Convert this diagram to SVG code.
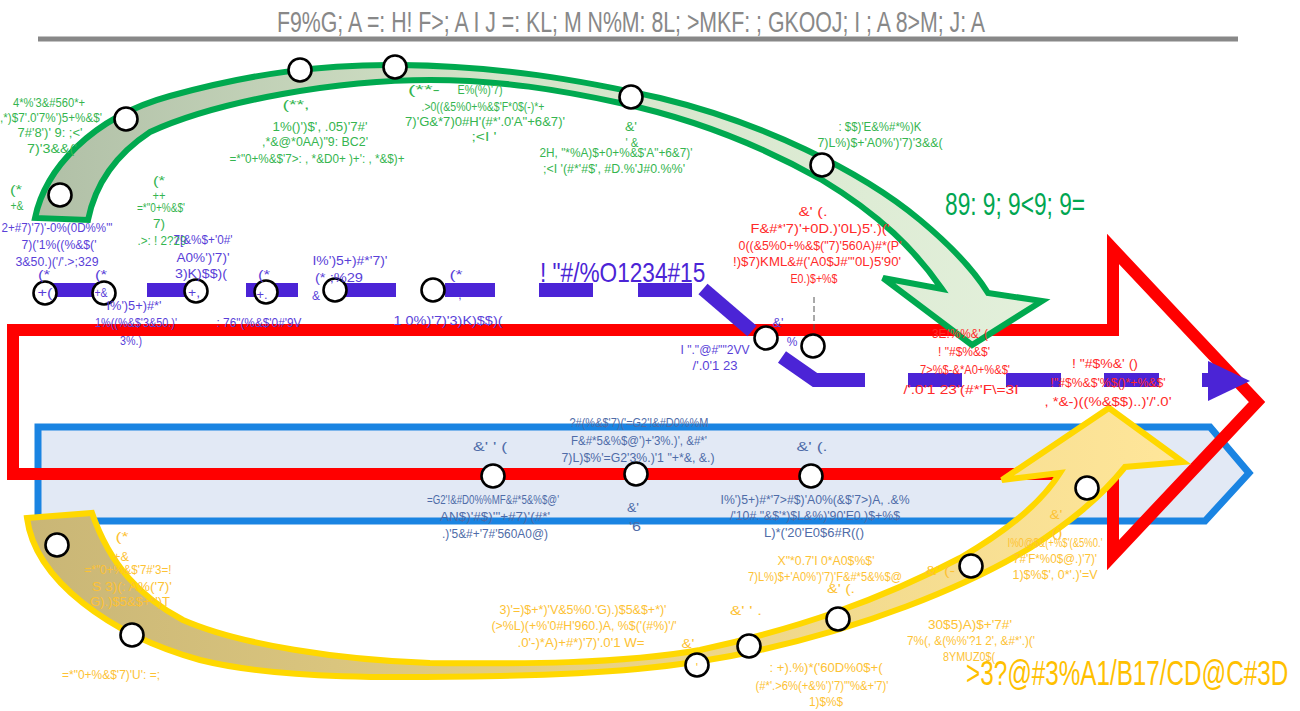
<svg xmlns="http://www.w3.org/2000/svg" width="1300" height="711" viewBox="0 0 1300 711">
<defs>
<linearGradient id="gg" x1="0" y1="0" x2="1" y2="0"><stop offset="0" stop-color="#b0bfa6"/><stop offset="0.45" stop-color="#d3e3c8"/><stop offset="1" stop-color="#e3f0db"/></linearGradient>
<linearGradient id="yg" x1="0" y1="0" x2="1" y2="0"><stop offset="0" stop-color="#c9b676"/><stop offset="0.5" stop-color="#e9d285"/><stop offset="1" stop-color="#ffe69a"/></linearGradient>
<style>
.t{font-family:'Liberation Sans',Arial,sans-serif;font-size:12px;text-anchor:middle}
.g{fill:#35b54f}.v{fill:#5a3fd8}.r{fill:#ff2a2a}.b{fill:#4f6ca8}.y{fill:#fdc234}
.n{fill:#fff;stroke:#000;stroke-width:2.6}
.bar{stroke:#4b24d6;stroke-width:14;fill:none;stroke-linecap:butt;stroke-linejoin:miter}
</style>
</defs>
<rect width="1300" height="711" fill="#fff"/>
<g id="title">
<text x="277" y="32" font-family="'Liberation Sans',Arial,sans-serif" font-size="30" fill="#888" textLength="708" lengthAdjust="spacingAndGlyphs">F9%G; A =: H!  F&gt;; A I J =: KL; M N%M: 8L; &gt;MKF: ;  GKOOJ;  I ; A 8&gt;M; J: A</text>
<line x1="38" y1="39" x2="1238" y2="39" stroke="#888" stroke-width="5"/>
</g>
<g id="blue-band"><polygon points="38,427 1210,427 1249,473 1205,521 38,521" fill="#e2e9f5" stroke="#1a84e2" stroke-width="7"/></g>
<g id="red-arrow"><polygon points="13,330 1113,330 1113,249 1257,402 1113,555 1113,474 13,474" fill="none" stroke="#ff0000" stroke-width="12" stroke-linejoin="miter"/></g>
<g id="connectors">
<path class="bar" d="M48,290H98M147,290H197M246,290H298M345,290H396M445,290H495M539,290H593M638,290H692"/>
<path class="bar" d="M703,289L752,331"/>
<path class="bar" d="M782,357L815,380H865"/>
<path class="bar" d="M908,380H962M1006,380H1061M1104,380H1159M1202,380H1215"/>
<polygon points="1208,361 1250,381 1208,401" fill="#4b24d6"/>
<line x1="814" y1="297" x2="814" y2="334" stroke="#555" stroke-width="1" stroke-dasharray="6,3"/>
</g>
<g id="green-arrow"><path d="M35,218 C45,170 90,118 170,96 C250,74 320,64 400,65 C500,66 580,80 660,98 C760,122 860,170 920,220 C950,245 975,272 988,293 L1042,301 L972,345 L883,278 L942,289 C915,250 880,215 822,180 C760,145 690,118 620,103 C560,90 500,80 430,80 C340,80 220,100 150,132 C115,155 95,185 88,220 Z" fill="url(#gg)" stroke="#00a94f" stroke-width="6" stroke-linejoin="miter"/></g>
<g id="yellow-arrow"><path d="M27,518 C35,580 110,635 200,660 C280,680 400,678 500,676 C600,674 680,668 760,650 C860,628 960,590 1030,548 C1070,522 1100,498 1125,467 L1183,462 L1109,408 L1002,480 L1060,473 C1040,505 1000,535 960,558 C880,600 800,628 700,650 C620,664 520,664 430,663 C340,660 240,645 183,620 C140,597 110,565 92,513 Z" fill="url(#yg)" stroke="#ffd800" stroke-width="6" stroke-linejoin="miter"/></g>
<g id="nodes">
<g id="n1"><circle class="n" cx="60" cy="195" r="11.5"/></g>
<g id="n2"><circle class="n" cx="126" cy="119" r="11.5"/></g>
<g id="n3"><circle class="n" cx="300" cy="70" r="11.5"/></g>
<g id="n4"><circle class="n" cx="395" cy="67" r="11.5"/></g>
<g id="n5"><circle class="n" cx="631" cy="97" r="11.5"/></g>
<g id="n6"><circle class="n" cx="822" cy="165" r="11.5"/></g>
<g id="n7"><circle class="n" cx="45" cy="293" r="11.5"/></g>
<g id="n8"><circle class="n" cx="104" cy="293" r="11.5"/></g>
<g id="n9"><circle class="n" cx="196" cy="291" r="11.5"/></g>
<g id="n10"><circle class="n" cx="266" cy="292" r="11.5"/></g>
<g id="n11"><circle class="n" cx="335" cy="290" r="11.5"/></g>
<g id="n12"><circle class="n" cx="433" cy="290" r="11.5"/></g>
<g id="n13"><circle class="n" cx="766" cy="338" r="11.5"/></g>
<g id="n14"><circle class="n" cx="813" cy="346" r="11.5"/></g>
<g id="n15"><circle class="n" cx="493" cy="476" r="11.5"/></g>
<g id="n16"><circle class="n" cx="636" cy="474" r="11.5"/></g>
<g id="n17"><circle class="n" cx="811" cy="476" r="11.5"/></g>
<g id="n18"><circle class="n" cx="57" cy="545" r="11.5"/></g>
<g id="n19"><circle class="n" cx="132" cy="635" r="11.5"/></g>
<g id="n20"><circle class="n" cx="697" cy="665" r="11.5"/></g>
<g id="n21"><circle class="n" cx="749" cy="646" r="11.5"/></g>
<g id="n22"><circle class="n" cx="838" cy="619" r="11.5"/></g>
<g id="n23"><circle class="n" cx="971" cy="566" r="11.5"/></g>
<g id="n24"><circle class="n" cx="1087" cy="488" r="11.5"/></g>
</g>
<g id="green-labels" class="t g">
<text x="49" y="107" textLength="72" lengthAdjust="spacingAndGlyphs">4*%'3&amp;#560*+</text>
<text x="51" y="122" textLength="102" lengthAdjust="spacingAndGlyphs">,*)$7'.0'7%')5+%&amp;$'</text>
<text x="50" y="137" textLength="65" lengthAdjust="spacingAndGlyphs">7#'8')' 9: ;&lt;'</text>
<text x="52" y="153" textLength="50" lengthAdjust="spacingAndGlyphs">7)'3&amp;&amp;('</text>
<text x="16" y="194" textLength="12" lengthAdjust="spacingAndGlyphs">(*</text>
<text x="17" y="210" textLength="13" lengthAdjust="spacingAndGlyphs">+&amp;</text>
<text x="159" y="185" textLength="12" lengthAdjust="spacingAndGlyphs">(*</text>
<text x="159" y="200" textLength="13" lengthAdjust="spacingAndGlyphs">++</text>
<text x="161" y="212" textLength="48" lengthAdjust="spacingAndGlyphs">=*"0+%&amp;$'</text>
<text x="159" y="228" textLength="12" lengthAdjust="spacingAndGlyphs">7)</text>
<text x="162" y="245" textLength="49" lengthAdjust="spacingAndGlyphs">.&gt;: ! 2?29</text>
<text x="296" y="109" textLength="27" lengthAdjust="spacingAndGlyphs">(**,</text>
<text x="320" y="131" textLength="95" lengthAdjust="spacingAndGlyphs">1%()')$', .05)'7#'</text>
<text x="315" y="146" textLength="106" lengthAdjust="spacingAndGlyphs">,*&amp;@*0AA)"9: BC2'</text>
<text x="317" y="163" textLength="175" lengthAdjust="spacingAndGlyphs">=*"0+%&amp;$'7&gt;: , *&amp;D0+ )+': , *&amp;$)+</text>
<text x="424" y="94" textLength="32" lengthAdjust="spacingAndGlyphs">(**-</text>
<text x="480" y="94" textLength="45" lengthAdjust="spacingAndGlyphs">E%(%)'7)</text>
<text x="483" y="111" textLength="123" lengthAdjust="spacingAndGlyphs">.&gt;0((&amp;5%0+%&amp;$'F*0$(-)*+</text>
<text x="485" y="126" textLength="160" lengthAdjust="spacingAndGlyphs">7)'G&amp;*7)0#H'(#*'.0'A"+6&amp;7)'</text>
<text x="484" y="141" textLength="25" lengthAdjust="spacingAndGlyphs">;&lt;I '</text>
<text x="631" y="131" textLength="12" lengthAdjust="spacingAndGlyphs">&amp;'</text>
<text x="632" y="147" textLength="13" lengthAdjust="spacingAndGlyphs">' &amp;</text>
<text x="616" y="157" textLength="153" lengthAdjust="spacingAndGlyphs">2H, "*%A)$+0+%&amp;$'A"+6&amp;7)'</text>
<text x="614" y="173" textLength="142" lengthAdjust="spacingAndGlyphs">;&lt;I '(#*'#$', #D.%'J#0.%%'</text>
<text x="880" y="131" textLength="83" lengthAdjust="spacingAndGlyphs">: $$)'E&amp;%#*%)K</text>
<text x="880" y="147" textLength="125" lengthAdjust="spacingAndGlyphs">7)L%)$+'A0%')'7)'3&amp;&amp;(</text>
<text transform="translate(945,215) scale(0.62,1)" x="0" y="0" font-size="32" fill="#00a651" style="text-anchor:start" textLength="226" lengthAdjust="spacingAndGlyphs">89: 9; 9&lt;9; 9=</text>
</g>
<g id="red-labels" class="t r">
<text x="813" y="216" textLength="29" lengthAdjust="spacingAndGlyphs">&amp;' (.</text>
<text x="820" y="233" textLength="139" lengthAdjust="spacingAndGlyphs">F&amp;#*'7)'+0D.)'0L)5'.)('</text>
<text x="820" y="250" textLength="163" lengthAdjust="spacingAndGlyphs">0((&amp;5%0+%&amp;$("7)'560A)#*(P'</text>
<text x="817" y="266" textLength="168" lengthAdjust="spacingAndGlyphs">!)$7)KML&amp;#('A0$J#"'0L)5'90'</text>
<text x="814" y="283" textLength="47" lengthAdjust="spacingAndGlyphs">E0.)$+%$</text>
<text x="960" y="338" textLength="56" lengthAdjust="spacingAndGlyphs">3E!%%&amp;' (</text>
<text x="964" y="356" textLength="52" lengthAdjust="spacingAndGlyphs">! "#$%&amp;$'</text>
<text x="965" y="374" textLength="90" lengthAdjust="spacingAndGlyphs">7&gt;%$-&amp;*A0+%&amp;$'</text>
<text x="961" y="394" textLength="115" lengthAdjust="spacingAndGlyphs">/'.0'1 23'(#*'F\=3I</text>
<text x="1105" y="368" textLength="66" lengthAdjust="spacingAndGlyphs">!  "#$%&amp;' ()</text>
<text x="1108" y="387" textLength="115" lengthAdjust="spacingAndGlyphs">!"#$%&amp;$'%$()*+%&amp;$'</text>
<text x="1108" y="406" textLength="127" lengthAdjust="spacingAndGlyphs">, *&amp;-)((%&amp;$$)..)'/'.0'</text>
</g>
<g id="violet-labels" class="t v">
<text x="57" y="232" textLength="111" lengthAdjust="spacingAndGlyphs">2+#7)'7)'-0%(0D%%"'</text>
<text x="59" y="249" textLength="75" lengthAdjust="spacingAndGlyphs">7)('1%((%&amp;$('</text>
<text x="57" y="266" textLength="83" lengthAdjust="spacingAndGlyphs">3&amp;50.)('/'.&gt;;329</text>
<text x="44" y="279" textLength="12" lengthAdjust="spacingAndGlyphs">(*</text>
<text x="45" y="297" textLength="15" lengthAdjust="spacingAndGlyphs">+(</text>
<text x="101" y="279" textLength="12" lengthAdjust="spacingAndGlyphs">(*</text>
<text x="101" y="297" textLength="13" lengthAdjust="spacingAndGlyphs">+&amp;</text>
<text x="134" y="310" textLength="55" lengthAdjust="spacingAndGlyphs">I%')5+)#*'</text>
<text x="136" y="327" textLength="82" lengthAdjust="spacingAndGlyphs">1%((%&amp;$'3&amp;50.)'</text>
<text x="131" y="345" textLength="22" lengthAdjust="spacingAndGlyphs">3%.)</text>
<text x="203" y="244" textLength="59" lengthAdjust="spacingAndGlyphs">7[&amp;%$+'0#'</text>
<text x="203" y="262" textLength="53" lengthAdjust="spacingAndGlyphs">A0%')'7)'</text>
<text x="201" y="278" textLength="52" lengthAdjust="spacingAndGlyphs">3)K)$$)(</text>
<text x="194" y="297" textLength="12" lengthAdjust="spacingAndGlyphs">+,</text>
<text x="259" y="327" textLength="85" lengthAdjust="spacingAndGlyphs">: 76"(%&amp;$'0#'9V</text>
<text x="264" y="279" textLength="12" lengthAdjust="spacingAndGlyphs">(*</text>
<text x="262" y="299" textLength="11" lengthAdjust="spacingAndGlyphs">+.</text>
<text x="350" y="265" textLength="75" lengthAdjust="spacingAndGlyphs">I%')5+)#*'7)'</text>
<text x="339" y="282" textLength="48" lengthAdjust="spacingAndGlyphs">(*  ;%29</text>
<text x="316" y="300">&amp;</text>
<text x="448" y="325" textLength="109" lengthAdjust="spacingAndGlyphs">1 0%)'7)'3)K)$$)(</text>
<text x="456" y="279" textLength="13" lengthAdjust="spacingAndGlyphs">(*</text>
<text x="460" y="299">,</text>
<text transform="translate(540,282) scale(0.68,1)" x="0" y="0" font-size="28" fill="#4b24d6" style="text-anchor:start" textLength="243" lengthAdjust="spacingAndGlyphs">!  "#/%O1234#15</text>
<text x="778" y="327" textLength="11" lengthAdjust="spacingAndGlyphs">&amp;'</text>
<text x="792" y="346">%</text>
<text x="715" y="354" textLength="69" lengthAdjust="spacingAndGlyphs">I "."@#""2VV</text>
<text x="715" y="370" textLength="45" lengthAdjust="spacingAndGlyphs">/'.0'1 23</text>
</g>
<g id="band-labels" class="t b">
<text x="639" y="427" textLength="139" lengthAdjust="spacingAndGlyphs">?#(%&amp;$'7)('=G2'!&amp;#D0%%M</text>
<text x="639" y="445" textLength="136" lengthAdjust="spacingAndGlyphs">F&amp;#*5&amp;%$@')+'3%.)', &amp;#*'</text>
<text x="638" y="462" textLength="153" lengthAdjust="spacingAndGlyphs">7)L)$%'=G2'3%.)'1 "+*&amp;, &amp;.)</text>
<text x="490" y="451" textLength="34" lengthAdjust="spacingAndGlyphs">&amp;' ' (</text>
<text x="812" y="451" textLength="31" lengthAdjust="spacingAndGlyphs">&amp;' (.</text>
<text x="493" y="504" textLength="132" lengthAdjust="spacingAndGlyphs">=G2'!&amp;#D0%%MF&amp;#*5&amp;%$@'</text>
<text x="495" y="521" textLength="110" lengthAdjust="spacingAndGlyphs">AN$)'#$)'"+#7)'(#*'</text>
<text x="495" y="538" textLength="106" lengthAdjust="spacingAndGlyphs">.)'5&amp;#+'7#'560A0@)</text>
<text x="633" y="512" textLength="12" lengthAdjust="spacingAndGlyphs">&amp;'</text>
<text x="635" y="531" textLength="12" lengthAdjust="spacingAndGlyphs">'6</text>
<text x="815" y="504" textLength="189" lengthAdjust="spacingAndGlyphs">I%')5+)#*'7&gt;#$)'A0%(&amp;$'7&gt;)A, .&amp;%</text>
<text x="815" y="520" textLength="170" lengthAdjust="spacingAndGlyphs">/'10#."&amp;$'*)$L&amp;%)'90'E0.)$+%$</text>
<text x="814" y="537" textLength="100" lengthAdjust="spacingAndGlyphs">L)*('20'E0$6#R(()</text>
</g>
<g id="yellow-labels" class="t y">
<text x="122" y="541" textLength="13" lengthAdjust="spacingAndGlyphs">(*</text>
<text x="121" y="561" textLength="16" lengthAdjust="spacingAndGlyphs">+&amp;</text>
<text x="128" y="574" textLength="87" lengthAdjust="spacingAndGlyphs">=*"0+%&amp;$'7#'3=!</text>
<text x="132" y="591" textLength="80" lengthAdjust="spacingAndGlyphs">S 3)(: A%('7)'</text>
<text x="130" y="606" textLength="80" lengthAdjust="spacingAndGlyphs">G).)$5&amp;$+*')T</text>
<text x="111" y="679" textLength="98" lengthAdjust="spacingAndGlyphs">=*"0+%&amp;$'7)'U': =;</text>
<text x="583" y="614" textLength="167" lengthAdjust="spacingAndGlyphs">3)'=)$+*)'V&amp;5%0.'G).)$5&amp;$+*)'</text>
<text x="584" y="630" textLength="185" lengthAdjust="spacingAndGlyphs">(&gt;%L)(+%'0#H'960.)A, %$('(#%)'/'</text>
<text x="581" y="647" textLength="127" lengthAdjust="spacingAndGlyphs">.0'-)*A)+#*)'7)'.0'1 W=</text>
<text x="688" y="648" textLength="13" lengthAdjust="spacingAndGlyphs">&amp;'</text>
<text x="697" y="672">'</text>
<text x="746" y="615" textLength="32" lengthAdjust="spacingAndGlyphs">&amp;' ' .</text>
<text x="826" y="565" textLength="97" lengthAdjust="spacingAndGlyphs">X"*0.7'I 0*A0$%$'</text>
<text x="825" y="581" textLength="154" lengthAdjust="spacingAndGlyphs">7)L%)$+'A0%')'7)'F&amp;#*5&amp;%$@</text>
<text x="841" y="593" textLength="28" lengthAdjust="spacingAndGlyphs">&amp;' (.</text>
<text x="826" y="672" textLength="113" lengthAdjust="spacingAndGlyphs">: +).%)*('60D%0$+(</text>
<text x="822" y="690" textLength="133" lengthAdjust="spacingAndGlyphs">(#*'.&gt;6%(+&amp;%')'7)'"%&amp;+'7)'</text>
<text x="826" y="706" textLength="34" lengthAdjust="spacingAndGlyphs">1)$%$</text>
<text x="940" y="575" textLength="30" lengthAdjust="spacingAndGlyphs">&amp;' (-</text>
<text x="1056" y="519" textLength="13" lengthAdjust="spacingAndGlyphs">&amp;'</text>
<text x="1057" y="537" textLength="11" lengthAdjust="spacingAndGlyphs">()</text>
<text x="1055" y="547" textLength="95" lengthAdjust="spacingAndGlyphs">I%0@$&amp;(+%$'(&amp;5%0.'</text>
<text x="1055" y="563" textLength="84" lengthAdjust="spacingAndGlyphs">7#'F*%0$@.)'7)'</text>
<text x="1055" y="579" textLength="85" lengthAdjust="spacingAndGlyphs">1)$%$', 0*'.)'=V</text>
<text x="970" y="629" textLength="84" lengthAdjust="spacingAndGlyphs">30$5)A)$+'7#'</text>
<text x="971" y="645" textLength="128" lengthAdjust="spacingAndGlyphs">7%(, &amp;(%%'?1 2', &amp;#*'.)('</text>
<text x="969" y="661" textLength="52" lengthAdjust="spacingAndGlyphs">8YMUZ0$(</text>
<text transform="translate(966,685) scale(0.69,1)" x="0" y="0" font-size="36" fill="#ffc000" style="text-anchor:start" textLength="467" lengthAdjust="spacingAndGlyphs">&gt;3?@#3%A1/B17/CD@C#3D</text>
</g>
</svg>
